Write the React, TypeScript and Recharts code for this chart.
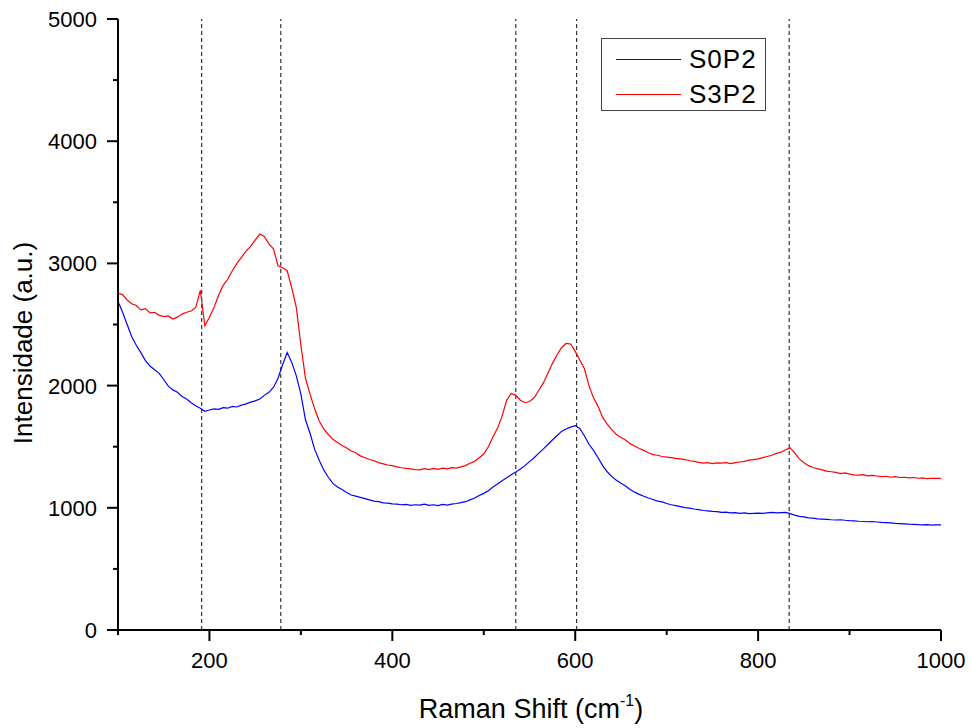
import { LineChart, Line, XAxis, YAxis, ReferenceLine, Label } from "recharts";

// Raman shift grid (cm-1)
const shift = [
  100, 105, 110, 115, 120, 125, 130, 135, 140, 145, 150, 155, 160, 165, 170, 175, 180, 185, 190, 195,
  200, 205, 210, 215, 220, 225, 230, 235, 240, 245, 250, 255, 260, 265, 270, 275, 280, 285, 290, 295,
  300, 305, 310, 315, 320, 325, 330, 335, 340, 345, 350, 355, 360, 365, 370, 375, 380, 385, 390, 395,
  400, 405, 410, 415, 420, 425, 430, 435, 440, 445, 450, 455, 460, 465, 470, 475, 480, 485, 490, 495,
  500, 505, 510, 515, 520, 525, 530, 535, 540, 545, 550, 555, 560, 565, 570, 575, 580, 585, 590, 595,
  600, 605, 610, 615, 620, 625, 630, 635, 640, 645, 650, 655, 660, 665, 670, 675, 680, 685, 690, 695,
  700, 705, 710, 715, 720, 725, 730, 735, 740, 745, 750, 755, 760, 765, 770, 775, 780, 785, 790, 795,
  800, 805, 810, 815, 820, 825, 830, 835, 840, 845, 850, 855, 860, 865, 870, 875, 880, 885, 890, 895,
  900, 905, 910, 915, 920, 925, 930, 935, 940, 945, 950, 955, 960, 965, 970, 975, 980, 985, 990, 995,
  1000,
];

const s0p2 = [
  2690, 2600, 2500, 2400, 2330, 2270, 2205, 2160, 2130, 2100, 2050, 1995, 1965, 1945, 1910, 1890, 1860, 1835, 1815, 1790,
  1800, 1810, 1805, 1820, 1815, 1830, 1825, 1840, 1850, 1865, 1875, 1890, 1920, 1945, 1985, 2060, 2170, 2270, 2190, 2080,
  1930, 1720, 1610, 1480, 1390, 1310, 1250, 1200, 1170, 1150, 1125, 1105, 1095, 1085, 1075, 1065, 1055, 1050, 1040, 1038,
  1032, 1030, 1025, 1028, 1020, 1025, 1022, 1030, 1020, 1025, 1018, 1028, 1022, 1030, 1035, 1042, 1050, 1065, 1080, 1100,
  1118, 1140, 1170, 1195, 1222, 1245, 1270, 1292, 1318, 1345, 1378, 1410, 1445, 1480, 1518, 1555, 1590, 1625, 1645, 1660,
  1672, 1650, 1590, 1520, 1470, 1410, 1345, 1295, 1255, 1225, 1200, 1178, 1150, 1128, 1110, 1095, 1080, 1068, 1055, 1048,
  1035, 1025, 1018, 1010, 1002, 998, 990, 985, 978, 975, 970, 968, 962, 965, 958, 960, 955, 958, 952, 955,
  957, 954, 958, 962, 958, 960, 962, 952, 940, 930, 925, 918, 915, 910, 908, 905, 902, 900, 902, 898,
  895, 893, 890, 888, 886, 888, 884, 880, 878, 876, 872, 870, 868, 866, 865, 862, 860, 862, 858, 860,
  860,
];

const s3p2 = [
  2755, 2745, 2700, 2670, 2655, 2620, 2630, 2595, 2600, 2575, 2565, 2570, 2545, 2560, 2585, 2600, 2610, 2640, 2780, 2490,
  2560, 2640, 2740, 2820, 2870, 2940, 3000, 3050, 3100, 3140, 3190, 3240, 3220, 3160, 3120, 2980, 2965, 2940, 2800, 2640,
  2330, 2060, 1930, 1810, 1710, 1645, 1600, 1560, 1535, 1510, 1490, 1465, 1450, 1425, 1410, 1395, 1385, 1370, 1360, 1350,
  1345, 1335, 1328, 1322, 1318, 1312, 1310, 1320, 1312, 1322, 1315, 1325, 1318, 1328, 1325, 1335, 1345, 1365, 1380, 1410,
  1440, 1500, 1580, 1650, 1750, 1880, 1935, 1920, 1880, 1860, 1870, 1900, 1960, 2020, 2100, 2180, 2250, 2310, 2345, 2340,
  2280, 2210, 2140, 2000, 1900, 1830, 1740, 1685, 1640, 1600, 1575, 1555, 1525, 1505, 1485, 1470, 1450, 1435, 1430, 1420,
  1415, 1410, 1405, 1400, 1395, 1385, 1380, 1372, 1365, 1370, 1362, 1368, 1365, 1370, 1362, 1370, 1375, 1380, 1390, 1395,
  1400, 1410, 1420, 1430, 1445, 1455, 1475, 1490, 1450, 1400, 1370, 1345, 1330, 1318, 1310, 1300, 1295, 1290, 1280, 1285,
  1275, 1270, 1268, 1272, 1262, 1265, 1260, 1255, 1258, 1250, 1255, 1248, 1250, 1245, 1248, 1242, 1245, 1238, 1242, 1240,
  1240,
];

// dashed guide lines (cm-1)
const guides = [191.5, 278, 535, 601.5, 834];

const xTicks = [100, 200, 300, 400, 500, 600, 700, 800, 900, 1000];
const yTicks = [0, 500, 1000, 1500, 2000, 2500, 3000, 3500, 4000, 4500, 5000];

const series = [
  { key: "s0p2", name: "S0P2", color: "#0000ff" },
  { key: "s3p2", name: "S3P2", color: "#ff0000" },
];

const data = shift.map((s, i) => ({ shift: s, s0p2: s0p2[i], s3p2: s3p2[i] }));

const FONT = "'Liberation Sans', Arial, sans-serif";
const TICK = 10;

function XTick(props: any) {
  const { x, y, payload } = props;
  const axisY = y - TICK;
  const major = payload.value % 200 === 0;
  return (
    <g>
      <line x1={x} x2={x} y1={axisY} y2={axisY + (major ? 11 : 5)} stroke="#000" strokeWidth={2} />
      {major && (
        <text x={x} y={axisY + 38} textAnchor="middle" fontSize={22} fontFamily={FONT} fill="#000">
          {payload.value}
        </text>
      )}
    </g>
  );
}

function YTick(props: any) {
  const { x, y, payload } = props;
  const axisX = x + TICK;
  const major = payload.value % 1000 === 0;
  return (
    <g>
      <line x1={axisX - (major ? 11 : 5)} x2={axisX} y1={y} y2={y} stroke="#000" strokeWidth={2} />
      {major && (
        <text x={axisX - 21} y={y} dy="0.36em" textAnchor="end" fontSize={22} fontFamily={FONT} fill="#000">
          {payload.value}
        </text>
      )}
    </g>
  );
}

function LegendBox() {
  return (
    <div
      style={{
        position: "absolute",
        left: 601,
        top: 38,
        border: "1.5px solid #444",
        background: "#fff",
        width: 165,
        height: 73,
        boxSizing: "border-box",
        fontFamily: FONT,
        fontSize: 26,
        padding: "3px 0 0 14px",
      }}
    >
      {series.map((s) => (
        <div key={s.key} style={{ display: "flex", alignItems: "center", height: 35 }}>
          <span style={{ display: "inline-block", width: 65, height: 1.5, background: s.color, marginRight: 8 }} />
          <span style={{ letterSpacing: 1 }}>{s.name}</span>
        </div>
      ))}
    </div>
  );
}

export default function App() {
  return (
    <div style={{ position: "absolute", left: 0, top: 0, width: 971, height: 728, background: "#fff" }}>
      <LineChart width={971} height={728} data={data} margin={{ top: 19, right: 30, left: 0, bottom: 0 }}>
        <XAxis
          dataKey="shift"
          type="number"
          domain={[100, 1000]}
          ticks={xTicks}
          height={98}
          tickSize={TICK}
          tickMargin={0}
          tickLine={false}
          tick={<XTick />}
          axisLine={{ stroke: "#000", strokeWidth: 2 }}
          interval={0}
          allowDataOverflow
        >
          <Label
            content={() => (
              <text x={531} y={718} textAnchor="middle" fontSize={27} fontFamily={FONT} fill="#000">
                Raman Shift (cm
                <tspan fontSize={16} dy={-12}>-1</tspan>
                <tspan dy={12}>)</tspan>
              </text>
            )}
          />
        </XAxis>
        <XAxis xAxisId="top" orientation="top" type="number" domain={[100, 1000]} height={0} tick={false} tickLine={false} axisLine={{ stroke: "#000", strokeWidth: 2 }} />
        <YAxis
          type="number"
          domain={[0, 5000]}
          ticks={yTicks}
          width={118}
          tickSize={TICK}
          tickMargin={0}
          tickLine={false}
          tick={<YTick />}
          axisLine={{ stroke: "#000", strokeWidth: 2 }}
          interval={0}
        >
          <Label
            content={() => (
              <text x={32} y={343} transform="rotate(-90, 32, 343)" textAnchor="middle" fontSize={26} fontFamily={FONT} fill="#000">
                Intensidade (a.u.)
              </text>
            )}
          />
        </YAxis>
        <YAxis yAxisId="right" orientation="right" domain={[0, 5000]} width={0} tick={false} tickLine={false} axisLine={{ stroke: "#000", strokeWidth: 2 }} />
        {guides.map((g) => (
          <ReferenceLine key={g} x={g} stroke="#333" strokeDasharray="4 3" strokeWidth={1.2} />
        ))}
        {series.map((s) => (
          <Line
            key={s.key}
            dataKey={s.key}
            name={s.name}
            stroke={s.color}
            strokeWidth={1.2}
            dot={false}
            type="linear"
            isAnimationActive={false}
          />
        ))}
      </LineChart>
      <LegendBox />
    </div>
  );
}
